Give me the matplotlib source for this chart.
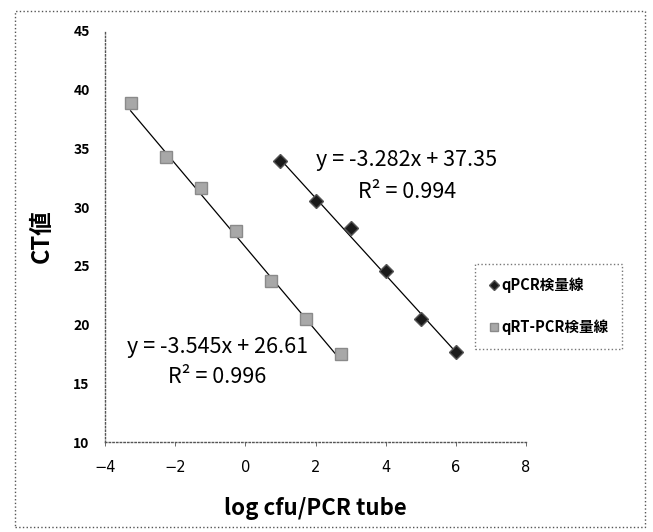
import matplotlib.pyplot as plt
from matplotlib.patches import Rectangle

plt.rcParams['font.family'] = ['Noto Sans CJK JP', 'DejaVu Sans']

# qPCR standard curve (diamonds)
qpcr_x = [1, 2, 3, 4, 5, 6]
qpcr_y = [33.9, 30.5, 28.2, 24.6, 20.5, 17.7]
# qRT-PCR standard curve (grey squares)
qrt_x = [-3.27, -2.27, -1.27, -0.27, 0.73, 1.73, 2.72]
qrt_y = [38.9, 34.3, 31.6, 28.0, 23.7, 20.5, 17.5]

# trendline coefficients (slope, intercept) as printed on chart
qpcr_fit = [-3.282, 37.35]
qrt_fit = [-3.545, 26.61]

xticks = [-4, -2, 0, 2, 4, 6, 8]
yticks = [10, 15, 20, 25, 30, 35, 40, 45]

W, H = 653, 532
fig = plt.figure(figsize=(W / 100, H / 100), dpi=100)
ax = fig.add_axes([105 / W, 1 - 442 / H, 421 / W, 411 / H])

# outer dotted frame like the scanned Excel chart
fig.patches.append(Rectangle((15 / W, 1 - 527 / H), 630 / W, 516 / H,
                             transform=fig.transFigure, fill=False,
                             edgecolor='#555555', linestyle=':', linewidth=1))

# trendlines
xa = [qpcr_x[0], qpcr_x[-1]]
ax.plot(xa, [qpcr_fit[0] * v + qpcr_fit[1] for v in xa], color='black', lw=0.9)
xb = [qrt_x[0], qrt_x[-1]]
ax.plot(xb, [qrt_fit[0] * v + qrt_fit[1] for v in xb], color='black', lw=0.9)

ax.plot(qpcr_x, qpcr_y, 'D', color='#1a1a1a', markeredgecolor='#555555',
        markersize=7, linestyle='none', label='qPCR検量線')
ax.plot(qrt_x, qrt_y, 's', color='#a8a8a8', markeredgecolor='#8a8a8a',
        markersize=9, linestyle='none', label='qRT-PCR検量線')

ax.set_xlim(-4, 8)
ax.set_ylim(10, 45)
ax.set_xticks(xticks)
ax.set_yticks(yticks)
ax.set_xticklabels(['\u2212' + str(-t) if t < 0 else str(t) for t in xticks],
                   fontsize=10.5, family='DejaVu Sans')
ax.set_yticklabels([str(t) for t in yticks], fontsize=10, fontweight='bold')
ax.tick_params(axis='x', direction='out', length=3, width=0.6, color='#555555', pad=10)
ax.tick_params(axis='y', length=0, pad=11)

for s in ['top', 'right']:
    ax.spines[s].set_visible(False)
for s in ['left', 'bottom']:
    ax.spines[s].set_linestyle(':')
    ax.spines[s].set_color('#555555')
    ax.spines[s].set_linewidth(1)

ax.set_xlabel('log cfu/PCR tube', fontsize=16, fontweight='bold', labelpad=16)
ax.set_ylabel('CT値', fontsize=17, fontweight='bold', labelpad=14)

# trendline equations
ax.text(4.6, 34.0, 'y = -3.282x + 37.35', fontsize=15.5, ha='center', va='center')
ax.text(4.6, 31.3, 'R² = 0.994', fontsize=15.5, ha='center', va='center')
ax.text(-0.8, 18.1, 'y = -3.545x + 26.61', fontsize=15.5, ha='center', va='center')
ax.text(-0.8, 15.5, 'R² = 0.996', fontsize=15.5, ha='center', va='center')

leg = fig.legend(loc='upper left', bbox_to_anchor=(475 / W, 1 - 264 / H),
                 prop={'size': 10.5, 'weight': 'bold'}, fancybox=False,
                 handletextpad=0.1, handlelength=0.8, labelspacing=1.8,
                 borderpad=0.9, borderaxespad=0, markerscale=0.7)
leg.get_frame().set_edgecolor('#555555')
leg.get_frame().set_linestyle(':')
leg.get_frame().set_linewidth(1)

fig.savefig('out.png', dpi=100)
